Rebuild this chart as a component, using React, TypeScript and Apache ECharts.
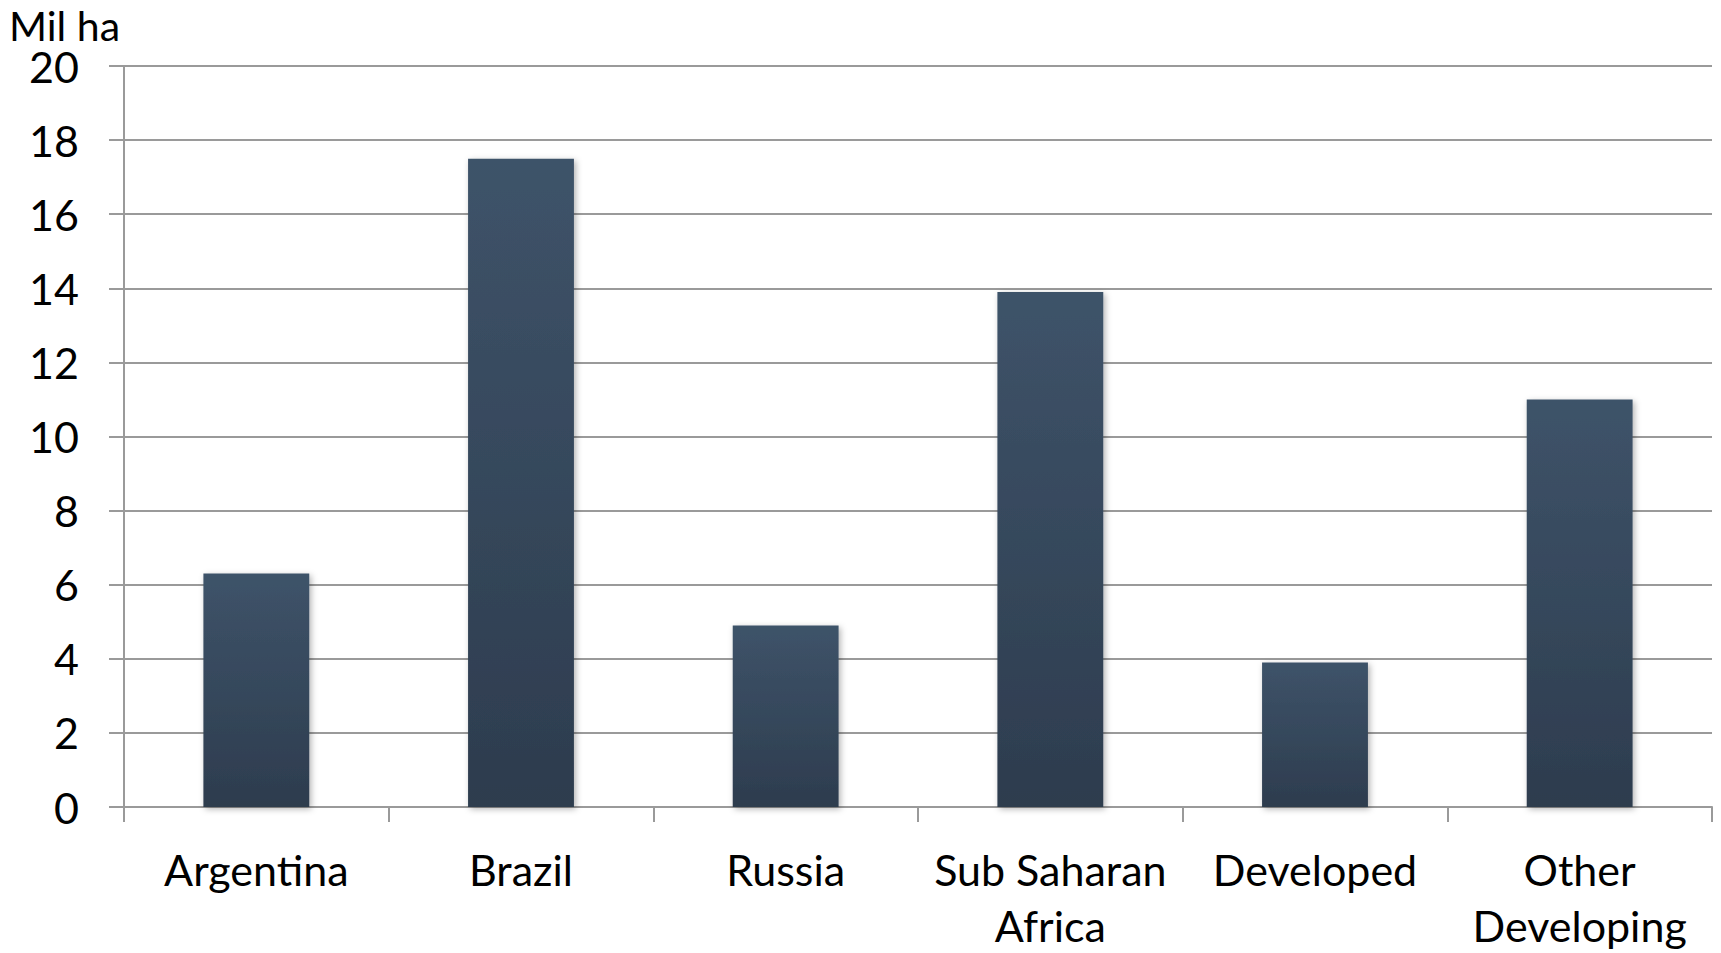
import React, { useEffect, useRef } from "react";
import * as echarts from "echarts";

const categories = ["Argentina", "Brazil", "Russia", "Sub Saharan\nAfrica", "Developed", "Other\nDeveloping"];
const values = [6.3, 17.5, 4.9, 13.9, 3.9, 11.0];
const unitLabel = "Mil ha";
const yMin = 0;
const yMax = 20;
const yStep = 2;

const FONT = "Lato, 'Open Sans', sans-serif";
const FONT_SIZE = 43;
const AXIS_GRAY = "#9a9a9a";

export default function App() {
  const ref = useRef<HTMLDivElement>(null);

  useEffect(() => {
    if (!ref.current) return;
    const chart = echarts.init(ref.current, undefined, { renderer: "svg" });
    chart.setOption({
      animation: false,
      backgroundColor: "#ffffff",
      textStyle: { fontFamily: FONT, color: "#000" },
      title: {
        text: unitLabel,
        left: 9,
        top: 5,
        padding: 0,
        textStyle: {
          fontFamily: FONT,
          fontSize: 41,
          lineHeight: 40,
          fontWeight: "normal",
          color: "#000",
        },
      },
      grid: { left: 124, right: 9, top: 66, bottom: 145, containLabel: false },
      xAxis: {
        type: "category",
        data: categories,
        boundaryGap: true,
        axisLine: { show: true, lineStyle: { color: AXIS_GRAY, width: 2 } },
        axisTick: { show: true, length: 15, alignWithLabel: false, lineStyle: { color: AXIS_GRAY, width: 2 } },
        axisLabel: {
          interval: 0,
          margin: 34,
          fontFamily: FONT,
          fontSize: FONT_SIZE,
          lineHeight: 56,
          color: "#000",
        },
        splitLine: { show: false },
      },
      yAxis: {
        type: "value",
        min: yMin,
        max: yMax,
        interval: yStep,
        axisLine: { show: true, lineStyle: { color: AXIS_GRAY, width: 2 } },
        axisTick: { show: true, length: 15, lineStyle: { color: AXIS_GRAY, width: 2 } },
        axisLabel: { margin: 45, fontFamily: FONT, fontSize: FONT_SIZE, lineHeight: 40, color: "#000" },
        splitLine: { show: true, lineStyle: { color: AXIS_GRAY, width: 2 } },
      },
      series: [
        {
          type: "bar",
          data: values,
          barWidth: "40%",
          itemStyle: {
            color: new echarts.graphic.LinearGradient(0, 0, 0, 1, [
              { offset: 0, color: "#3e5369" },
              { offset: 1, color: "#2d3c4e" },
            ]),
            shadowColor: "rgba(0,0,0,0.3)",
            shadowBlur: 6,
            shadowOffsetX: 2,
            shadowOffsetY: 2,
          },
        },
      ],
    });
    return () => chart.dispose();
  }, []);

  return (
    <div
      ref={ref}
      style={{ position: "absolute", left: 0, top: 0, width: 1721, height: 953 }}
    />
  );
}
